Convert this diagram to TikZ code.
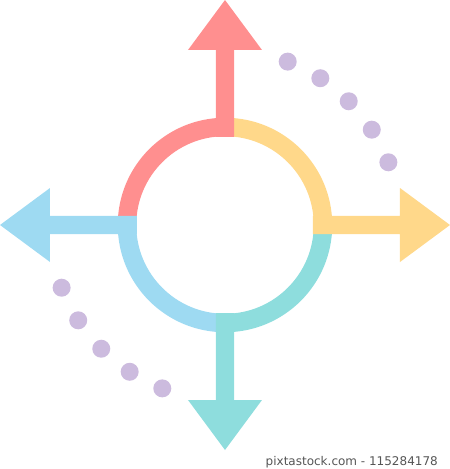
\documentclass[tikz,border=0pt]{standalone}
\usepackage{fontspec}
\setmainfont{DejaVu Sans}
\definecolor{cred}{RGB}{255,143,143}
\definecolor{cyellow}{RGB}{255,216,138}
\definecolor{cteal}{RGB}{142,221,221}
\definecolor{cblue}{RGB}{158,218,242}
\definecolor{cpurple}{RGB}{204,187,222}
\definecolor{cfoot}{RGB}{85,85,85}
\tikzset{
  ringarc/.style={line width=18.5pt, line cap=butt},
  arrowbody/.style={draw=none},
  dotmark/.style={fill=cpurple, draw=none},
  footer/.style={text=cfoot, font=\fontsize{12}{14}\selectfont, inner sep=0pt}
}
\begin{document}
\begin{tikzpicture}[x=1pt,y=1pt]
\useasboundingbox (-225,-244) rectangle (225,225);
\coordinate (c) at (0,0);
% ring arcs
\foreach \col/\r in {cred/0, cyellow/-90, cteal/-180, cblue/90}{
  \draw[ringarc, draw=\col] ([shift={(90+\r:98)}]c) arc[start angle=90+\r, end angle=180+\r, radius=98];
}
% arrows
\foreach \col/\r in {cred/0, cyellow/-90, cteal/-180, cblue/90}{
  \fill[arrowbody, fill=\col, rotate=\r] (-9.2,88) -- (-9.2,175) -- (-37,175) -- (0,225) -- (37,175) -- (9.2,175) -- (9.2,88) -- cycle;
}
% dots
\foreach \a in {21,33,45,57,69}{
  \fill[dotmark] (\a:175) circle[radius=9];
  \fill[dotmark] (\a+180:175) circle[radius=9];
}
\node[footer, anchor=base east] (foot) at (213,-240) {pixtastock.com - 115284178};
\end{tikzpicture}
\end{document}
